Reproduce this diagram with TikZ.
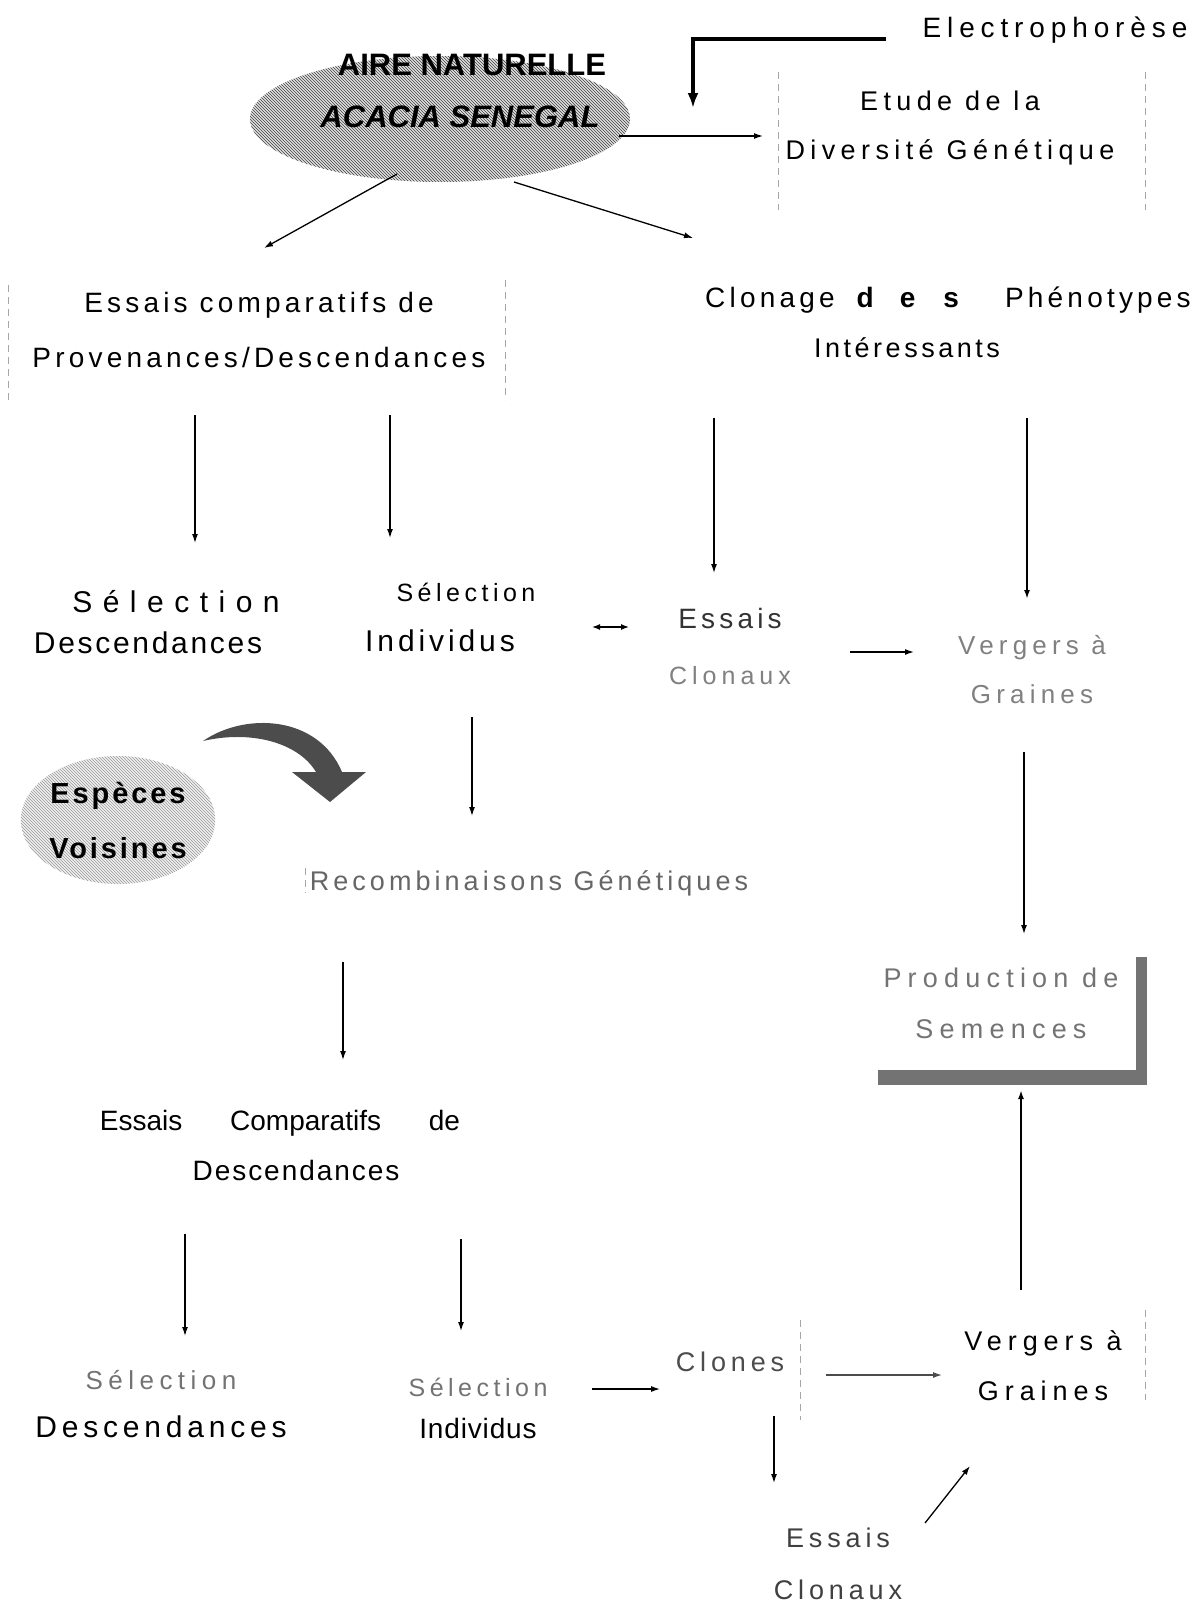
\documentclass[tikz,border=0pt]{standalone}
\usepackage{fontspec}
\setmainfont{Liberation Sans}
\usetikzlibrary{arrows.meta,patterns,shapes.geometric}

\newcommand\fsz[2]{\fontsize{#1}{#2}\selectfont}
\newcommand\ls[1]{\addfontfeatures{LetterSpace=#1}}

\tikzset{
  txt/.style={inner sep=0pt, align=center},
  aireell/.style={ellipse, inner sep=0pt, minimum width=380pt, minimum height=126pt,
    preaction={fill=black!12}, pattern=north west lines, pattern color=black!75},
  vois/.style={ellipse, inner sep=0pt, align=center, minimum width=194pt, minimum height=128pt,
    preaction={fill=black!6}, pattern=north west lines, pattern color=black!40},
  arr/.style={line width=1.3pt, -{Latex[length=9pt,width=6pt]}},
  arrboth/.style={line width=1.3pt, {Latex[length=8pt,width=6pt]}-{Latex[length=8pt,width=6pt]}},
  arrthick/.style={line width=3.5pt, -{Latex[length=15pt,width=11pt]}},
  faint/.style={draw=black!35, line width=0.8pt, dash pattern=on 7pt off 5pt},
}

\begin{document}
\begin{tikzpicture}[x=1pt,y=-1pt]
\useasboundingbox (0,0) rectangle (1203,1606);

% top row
\node[aireell] (aire) at (440,119) {};
\node[txt, font=\fsz{31}{52}\bfseries] (airetxt) at (460,91) {\hspace*{24pt}AIRE NATURELLE\\\textit{ACACIA SENEGAL}};
\node[txt, font={\fsz{28}{50}\ls{21}}] (electro) at (1055,30) {Electrophorèse};
\node[txt, font={\fsz{27}{49}\ls{20}}] (etude) at (950,128) {Etude de la\\Diversité Génétique};

% second row
\node[txt, font={\fsz{28}{55}\ls{15}}] (essaisprov) at (259,330) {Essais comparatifs de\\Provenances/Descendances};
\node[txt, font={\fsz{28}{50}\ls{15}}] (clonage) at (948,300) {Clonage\hspace{10pt} \textbf{d\hspace{14pt} e\hspace{16pt} s}\hspace{30pt} Phénotypes};
\node[txt, font={\fsz{27}{50}\ls{13}}] (interessants) at (907,348) {Intéressants};

% third row
\node[txt, font=\fsz{30}{41}] (seldesc) at (148,622) {\hspace*{56pt}{\ls{35}Sélection}\\{\ls{9}Descendances}};
\node[txt, font=\fsz{30}{50}] (selind) at (440,617) {\hspace*{52pt}{\fsz{25}{50}\ls{18}Sélection}\\{\ls{13}Individus}};
\node[txt, font={\fsz{28}{56}\ls{15}}, text=black!80] (essaiscl) at (730,646) {Essais\\{\color{black!50}\fsz{25}{56}\ls{20}Clonaux}};
\node[txt, font={\fsz{26}{49}\ls{20}}, text=black!50] (vergersA) at (1032,670) {Vergers à\\Graines};

% middle
\node[vois, font={\fsz{29}{55}\bfseries\ls{10}}] (especes) at (118,820) {Espèces\\Voisines};
\node[txt, font={\fsz{27}{50}\ls{15}}, text=black!60] (recomb) at (529,883) {Recombinaisons Génétiques};
\node[txt, font={\fsz{27}{51}\ls{23}}, text=black!55] (prod) at (1001,1003) {Production de\\Semences};
\node[txt, font=\fsz{28}{50}] (essaiscomp) at (280,1145) {Essais\hspace{40pt} Comparatifs\hspace{40pt} de\\\hspace*{32pt}{\ls{7}Descendances}};

% bottom row
\node[txt, font=\fsz{30}{48}] (seldescB) at (161,1404) {{\color{black!55}\fsz{26}{48}\ls{21}Sélection}\\{\ls{16}Descendances}};
\node[txt, font=\fsz{28}{42}] (selindB) at (478,1408) {{\color{black!55}\fsz{25}{42}\ls{18}Sélection}\\{\ls{3}Individus}};
\node[txt, font={\fsz{27}{50}\ls{18}}, text=black!70] (clones) at (730,1362) {Clones};
\node[txt, font={\fsz{27}{50}\ls{22}}] (vergersB) at (1043,1366) {Vergers à\\Graines};
\node[txt, font={\fsz{27}{52}\ls{18}}, text=black!75] (essaisclB) at (838,1564) {Essais\\Clonaux};

% faint box sides
\draw[faint] ([shift={(-172,-56)}]etude.center) -- ([shift={(-172,82)}]etude.center);
\draw[faint] ([shift={(195,-56)}]etude.center) -- ([shift={(195,82)}]etude.center);
\draw[faint] ([shift={(-251,-45)}]essaisprov.center) -- ([shift={(-251,70)}]essaisprov.center);
\draw[faint] ([shift={(246,-50)}]essaisprov.center) -- ([shift={(246,70)}]essaisprov.center);
\draw[faint] ([shift={(-224,-15)}]recomb.center) -- ([shift={(-224,10)}]recomb.center);
\draw[faint] ([shift={(-243,-46)}]vergersB.center) -- ([shift={(-243,54)}]vergersB.center);
\draw[faint] ([shift={(102,-56)}]vergersB.center) -- ([shift={(102,34)}]vergersB.center);

% shadow of Production de Semences
\fill[black!55] ([shift={(135,-46)}]prod.center) rectangle ([shift={(146,82)}]prod.center);
\fill[black!55] ([shift={(-123,67)}]prod.center) rectangle ([shift={(146,82)}]prod.center);

% curved arrow from Especes Voisines
\fill[black!70] (203,741) .. controls (245,712) and (318,715) .. (342,772) -- (366,772)
  -- (330,802) -- (292,772) -- (316,772) .. controls (298,742) and (250,730) .. (203,741) -- cycle;

% arrows
\draw[arrthick] ([shift={(-169,9)}]electro.center) -| ([shift={(253,-11)}]aire.center);
\draw[arr] ([shift={(179,17)}]aire.center) -- ([shift={(-187,8)}]etude.center);
\draw[arr] ([shift={(-43,55)}]aire.center) -- ([shift={(5,-82)}]essaisprov.center);
\draw[arr] ([shift={(74,63)}]aire.center) -- ([shift={(-255,-62)}]clonage.center);
\draw[arr] ([shift={(-64,85)}]essaisprov.center) -- ([shift={(47,-79)}]seldesc.center);
\draw[arr] ([shift={(131,85)}]essaisprov.center) -- ([shift={(-50,-79)}]selind.center);
\draw[arr] ([shift={(-193,70)}]interessants.center) -- ([shift={(-16,-73)}]essaiscl.center);
\draw[arr, line width=2.4pt] ([shift={(120,70)}]interessants.center) -- ([shift={(-5,-71)}]vergersA.center);
\draw[arrboth] ([shift={(152,10)}]selind.center) -- ([shift={(-101,-19)}]essaiscl.center);
\draw[arr] ([shift={(120,6)}]essaiscl.center) -- ([shift={(-118,-18)}]vergersA.center);
\draw[arr] ([shift={(32,100)}]selind.center) -- ([shift={(-57,-67)}]recomb.center);
\draw[arr] ([shift={(-8,82)}]vergersA.center) -- ([shift={(23,-69)}]prod.center);
\draw[arr] ([shift={(-186,79)}]recomb.center) -- ([shift={(63,-85)}]essaiscomp.center);
\draw[arr] ([shift={(-95,89)}]essaiscomp.center) -- ([shift={(24,-68)}]seldescB.center);
\draw[arr] ([shift={(181,94)}]essaiscomp.center) -- ([shift={(-17,-77)}]selindB.center);
\draw[arr] ([shift={(114,-19)}]selindB.center) -- ([shift={(-70,27)}]clones.center);
\draw[arr, black!70] ([shift={(96,13)}]clones.center) -- ([shift={(-101,9)}]vergersB.center);
\draw[arr] ([shift={(44,54)}]clones.center) -- ([shift={(-64,-81)}]essaisclB.center);
\draw[arr] ([shift={(87,-41)}]essaisclB.center) -- ([shift={(-73,100)}]vergersB.center);
\draw[arr, line width=2pt] ([shift={(-22,-76)}]vergersB.center) -- ([shift={(20,87)}]prod.center);

\end{tikzpicture}
\end{document}
